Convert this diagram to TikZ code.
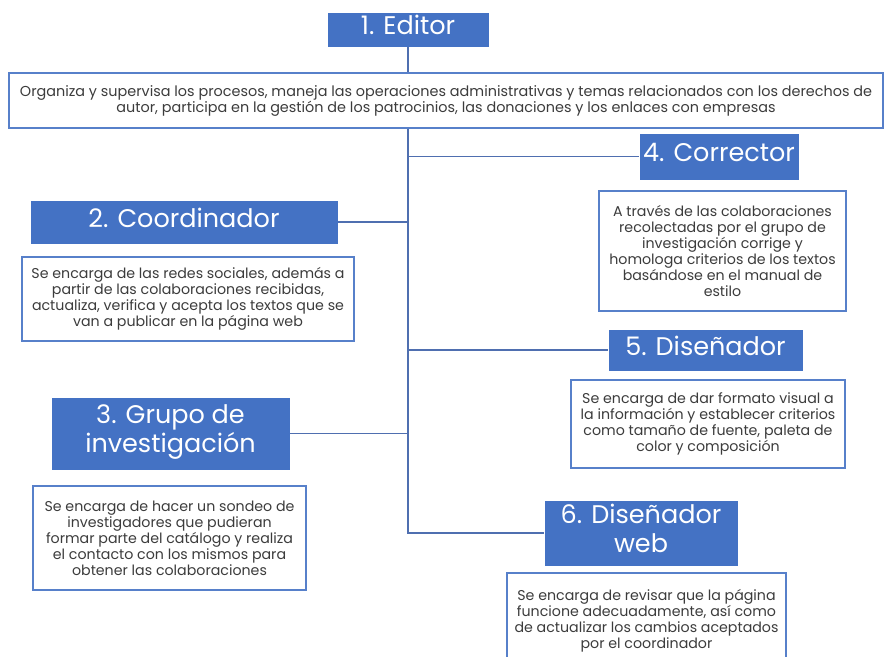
\documentclass[tikz,border=0pt]{standalone}
\usepackage{fontspec}
\setmainfont{Poppins}
\usetikzlibrary{positioning}
\definecolor{roleblue}{HTML}{4472C4}
\definecolor{linkblue}{HTML}{4F6FB0}
\definecolor{taskgray}{HTML}{3C3C3C}
\tikzset{%
  % Specifications for style of nodes:
            role/.style = {rectangle, fill=roleblue, draw=white, line width=0.8pt,
                           text=white, align=center, inner sep=0pt, text depth=9pt,
                           font=\fontsize{25.5}{29}\selectfont},
            task/.style = {rectangle, fill=white, draw=roleblue!90, line width=1.6pt,
                           text=taskgray, align=center, inner sep=0pt,
                           font=\fontsize{14.2}{16}\selectfont},
            link/.style = {draw=linkblue, line width=1.7pt}
}
\begin{document}
\begin{tikzpicture}[x=1pt, y=-1pt]
  \useasboundingbox (0,0) rectangle (885,656);

  % Specification of nodes (position, etc.)
  \node (editor)    [role, minimum width=162, minimum height=35] at (408,29.5) {1. Editor};
  \node (editortask)[task, minimum width=874, minimum height=55, font=\fontsize{14.4}{16}\selectfont] at (446,100.5)
        {Organiza y supervisa los procesos, maneja las operaciones administrativas y temas relacionados con los derechos de\\
         autor, participa en la gestión de los patrocinios, las donaciones y los enlaces con empresas};

  \node (corrector) [role, minimum width=160, minimum height=47] at (719,156.5) {4. Corrector};
  \node (correctortask) [task, minimum width=247, minimum height=120, below=10pt of corrector, xshift=3.5pt]
        {A través de las colaboraciones\\ recolectadas por el grupo de\\ investigación corrige y\\
         homologa criterios de los textos\\ basándose en el manual de\\ estilo};

  \node (coord)     [role, minimum width=308, minimum height=44] at (184,222) {2. Coordinador};
  \node (coordtask) [task, minimum width=332, minimum height=84, below=12pt of coord, xshift=4pt]
        {Se encarga de las redes sociales, además a\\ partir de las colaboraciones recibidas,\\
         actualiza, verifica y acepta los textos que se\\ van a publicar en la página web};

  \node (design)    [role, minimum width=195, minimum height=42] at (705.5,350) {5. Diseñador};
  \node (designtask)[task, minimum width=274, minimum height=88, below=8pt of design, xshift=2.5pt]
        {Se encarga de dar formato visual a\\ la información y establecer criterios\\
         como tamaño de fuente, paleta de\\ color y composición};

  \node (group)     [role, minimum width=239, minimum height=73] at (170.5,433.5) {3. Grupo de\\ investigación};
  \node (grouptask) [task, minimum width=273, minimum height=104, below=15pt of group, xshift=-1pt]
        {Se encarga de hacer un sondeo de\\ investigadores que pudieran\\ formar parte del catálogo y realiza\\
         el contacto con los mismos para\\ obtener las colaboraciones};

  \node (web)       [role, minimum width=194, minimum height=66] at (641,533) {6. Diseñador\\ web};
  \node (webtask)   [task, minimum width=279, minimum height=96, below=6pt of web, xshift=5.5pt]
        {Se encarga de revisar que la página\\ funcione adecuadamente, así como\\
         de actualizar los cambios aceptados\\ por el coordinador};

  % Specification of lines between nodes specified above
  \coordinate (trunk) at (editor.south |- editortask.south);
  \draw[link] (editor.south) -- (editor.south |- editortask.north);
  \draw[link] (trunk) |- (web.west);
  \draw[link] (corrector.west) -- (corrector.west -| trunk);
  \draw[link] (coord.east) -- (coord.east -| trunk);
  \draw[link] (design.west) -- (design.west -| trunk);
  \draw[link] (group.east) -- (group.east -| trunk);
\end{tikzpicture}
\end{document}
